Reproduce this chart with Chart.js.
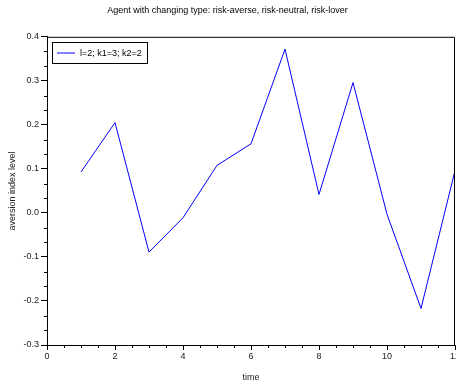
<!DOCTYPE html>
<html>
<head>
<meta charset="utf-8">
<script src="https://cdn.jsdelivr.net/npm/chart.js@4.4.0/dist/chart.umd.min.js"></script>
<style>
html,body{margin:0;padding:0;background:#fff;}
#wrap{width:456px;height:383px;position:relative;}
</style>
</head>
<body>
<div id="wrap"><canvas id="c" width="456" height="383"></canvas></div>
<script>
const chartTitle = "Agent with changing type: risk-averse, risk-neutral, risk-lover";
const xTitle = "time";
const yTitle = "aversion index level";
const seriesLabel = "l=2; k1=3; k2=2";
const timeValues = [1, 2, 3, 4, 5, 6, 7, 8, 9, 10, 11, 12];
const aversionValues = [0.093, 0.205, -0.089, -0.011, 0.108, 0.157, 0.372, 0.042, 0.296, -0.003, -0.217, 0.096];
const xTicks = [0, 2, 4, 6, 8, 10, 12];
const yTicks = [-0.3, -0.2, -0.1, 0.0, 0.1, 0.2, 0.3, 0.4];

const FONT = "'Liberation Sans', Arial, sans-serif";

const framePlugin = {
  id: 'frame',
  afterDraw(chart) {
    const {ctx, chartArea: a, scales} = chart;
    ctx.save();
    ctx.strokeStyle = '#000';
    ctx.lineWidth = 1;
    ctx.beginPath();
    ctx.moveTo(a.left, a.top + 0.5);
    ctx.lineTo(a.right - 0.5, a.top + 0.5);
    ctx.lineTo(a.right - 0.5, a.bottom);
    ctx.stroke();
    const xs = scales.x, ys = scales.y;
    ctx.beginPath();
    for (let i = 0; i < xTicks.length - 1; i++) {
      const step = (xTicks[i + 1] - xTicks[i]) / 4;
      for (let k = 1; k < 4; k++) {
        const px = Math.round(xs.getPixelForValue(xTicks[i] + k * step)) + 0.5;
        ctx.moveTo(px, a.bottom);
        ctx.lineTo(px, a.bottom + 3);
      }
    }
    for (let i = 0; i < yTicks.length - 1; i++) {
      const step = (yTicks[i + 1] - yTicks[i]) / 3;
      for (let k = 1; k < 3; k++) {
        const py = Math.round(ys.getPixelForValue(yTicks[i] + k * step)) + 0.5;
        ctx.moveTo(a.left, py);
        ctx.lineTo(a.left - 3, py);
      }
    }
    ctx.stroke();
    const bx = 52.5, by = 42.5, bw = 95, bh = 21;
    ctx.fillStyle = '#fff';
    ctx.fillRect(bx, by, bw, bh);
    ctx.strokeStyle = '#000';
    ctx.strokeRect(bx, by, bw, bh);
    const ds = chart.data.datasets[0];
    ctx.strokeStyle = ds.borderColor;
    ctx.beginPath();
    ctx.moveTo(57, 53);
    ctx.lineTo(75, 53);
    ctx.stroke();
    ctx.fillStyle = '#000';
    ctx.font = '9px ' + FONT;
    ctx.textBaseline = 'middle';
    ctx.textAlign = 'left';
    ctx.fillText(ds.label, 80, 53.5);
    ctx.restore();
  }
};

new Chart(document.getElementById('c'), {
  type: 'line',
  data: {
    datasets: [{
      label: seriesLabel,
      data: timeValues.map((t, i) => ({x: t, y: aversionValues[i]})),
      borderColor: '#0000ff',
      borderWidth: 1,
      pointRadius: 0,
      tension: 0,
      fill: false
    }]
  },
  options: {
    responsive: false,
    animation: false,
    devicePixelRatio: 1,
    layout: {padding: {left: 0, right: 1, top: 0, bottom: 0}},
    plugins: {
      legend: {display: false},
      tooltip: {enabled: false},
      title: {
        display: true,
        text: chartTitle,
        color: '#000',
        font: {family: FONT, size: 9, weight: 'normal'},
        padding: {top: 5, bottom: 21}
      }
    },
    scales: {
      x: {
        type: 'linear',
        min: 0, max: 12,
        afterBuildTicks(s) { s.ticks = xTicks.map(v => ({value: v})); },
        afterFit(s) { s.height = 38; s.paddingLeft = 0; s.paddingRight = 0; },
        ticks: {
          color: '#222',
          font: {family: FONT, size: 9},
          padding: 1,
          maxRotation: 0,
          autoSkip: false,
          callback: v => String(v)
        },
        grid: {drawOnChartArea: false, drawTicks: true, tickLength: 5, color: '#000', tickColor: '#000'},
        border: {color: '#000', width: 1},
        title: {display: true, text: xTitle, color: '#222', font: {family: FONT, size: 9}, padding: {top: 0, bottom: 0}}
      },
      y: {
        type: 'linear',
        min: -0.3, max: 0.4,
        afterBuildTicks(s) { s.ticks = yTicks.map(v => ({value: v})); },
        afterFit(s) { s.width = 47; },
        ticks: {
          color: '#222',
          font: {family: FONT, size: 9},
          padding: 2,
          autoSkip: false,
          callback: v => Number(v).toFixed(1)
        },
        grid: {drawOnChartArea: false, drawTicks: true, tickLength: 6, color: '#000', tickColor: '#000'},
        border: {color: '#000', width: 1},
        title: {display: true, text: yTitle, color: '#222', font: {family: FONT, size: 9}, padding: {top: 7, bottom: 0}}
      }
    }
  },
  plugins: [framePlugin]
});
</script>
</body>
</html>
